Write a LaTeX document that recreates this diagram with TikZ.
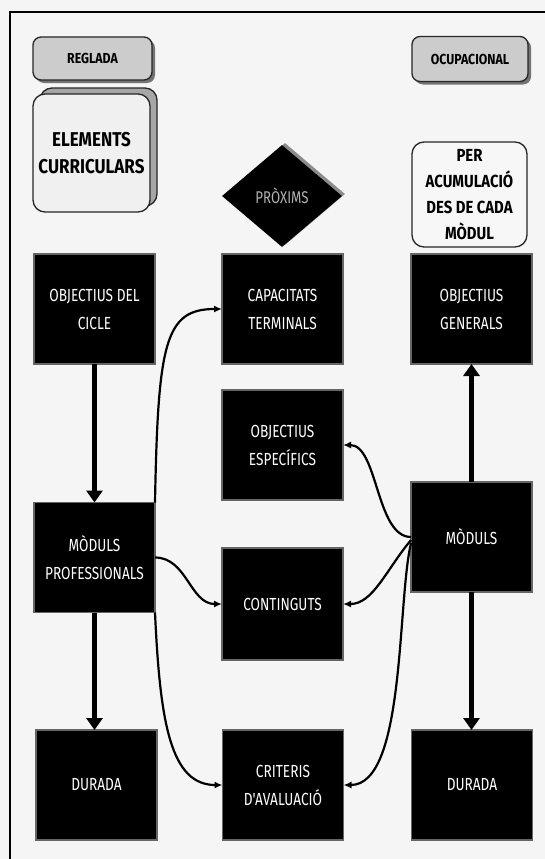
\documentclass[tikz,border=0pt]{standalone}
\usepackage{fontspec}
\setmainfont{Fira Sans}
\newfontfamily\wf{Fira Sans}[FakeStretch=0.78]
\newfontfamily\lf{Fira Sans}[FakeStretch=0.85]
\usetikzlibrary{shapes.geometric,arrows.meta}
\begin{document}
\begin{tikzpicture}[x=1pt,y=-1pt,
  blk/.style={fill=black, draw=black!60, line width=1.2pt, text=white,
    minimum width=121pt, minimum height=110pt, inner sep=2pt, outer sep=0pt,
    align=center, font=\wf\fontsize{17.5}{28}\selectfont},
  lab/.style={rounded corners=8pt, draw=black!85, line width=1.3pt,
    align=center, outer sep=0pt, inner sep=2pt},
  shad/.style={rounded corners=8pt, fill=black!55, draw=none, outer sep=0pt},
  big/.style={line width=5pt, -{Triangle[length=12pt,width=16pt]}},
  con/.style={line width=2.2pt, -{Latex[length=8pt,width=7pt]}}]
\useasboundingbox (0,0) rectangle (545,859);
\fill[black!4] (0,0) rectangle (545,859);
\draw[line width=2pt] (545,12) -- (10,12) -- (10,859);

% top label boxes
\node[shad, minimum width=119pt, minimum height=43pt] (regladash) at (95.5,61.5) {};
\node[lab, fill=black!20, minimum width=119pt, minimum height=43pt,
  font=\lf\bfseries\fontsize{14.5}{16}\selectfont] (reglada) at (92.5,58.5) {REGLADA};
\node[shad, minimum width=116pt, minimum height=45pt] (ocupsh) at (473,62) {};
\node[lab, fill=black!20, minimum width=116pt, minimum height=45pt,
  font=\lf\bfseries\fontsize{14.5}{16}\selectfont] (ocup) at (470,59) {OCUPACIONAL};
\node[lab, rounded corners=12pt, fill=black!35, minimum width=117pt, minimum height=118pt] (elemback) at (98.5,147) {};
\node[lab, rounded corners=12pt, fill=black!6, minimum width=117pt, minimum height=118pt,
  font=\lf\bfseries\fontsize{20}{27}\selectfont] (elements) at (91.5,153) {ELEMENTS\\CURRICULARS};
\node[lab, rounded corners=12pt, fill=black!3, minimum width=115pt, minimum height=105pt,
  font=\lf\bfseries\fontsize{17.5}{26}\selectfont] (per) at (469.5,194.5) {PER\\ACUMULACIÓ\\DES DE CADA\\MÒDUL};

% diamond
\node[diamond, fill=black!45, minimum width=120pt, minimum height=102pt, inner sep=0pt] (proxsh) at (285,194) {};
\node[diamond, fill=black, minimum width=120pt, minimum height=102pt, inner sep=0pt,
  text=black!30, font=\wf\fontsize{17}{18}\selectfont] (prox) at (282,196) {PRÒXIMS};

% black boxes
\node[blk] (cicle) at (94.5,309) {OBJECTIUS DEL\\CICLE};
\node[blk] (capac) at (282.5,309) {CAPACITATS\\TERMINALS};
\node[blk] (generals) at (471.5,309) {OBJECTIUS\\GENERALS};
\node[blk] (especif) at (282.5,445) {OBJECTIUS\\ESPECÍFICS};
\node[blk] (modprof) at (94.5,557.5) {MÒDULS\\PROFESSIONALS};
\node[blk] (moduls) at (471.5,537) {MÒDULS};
\node[blk, minimum height=112pt] (contin) at (282.5,604) {CONTINGUTS};
\node[blk] (durL) at (96.5,785) {DURADA};
\node[blk] (criteris) at (283,785) {CRITERIS\\D'AVALUACIÓ};
\node[blk] (durR) at (472,785) {DURADA};

% thick arrows
\draw[big] (cicle.south) -- (modprof.north);
\draw[big] (modprof.south) -- (modprof.south |- durL.north);
\draw[big] (moduls.north) -- (generals.south);
\draw[big] (moduls.south) -- (moduls.south |- durR.north);

% curved connectors
\draw[con] (modprof.north east) .. controls +(3,-160) and +(-57,0) .. (capac.west);
\draw[con] (modprof.east) .. controls +(32,0) and +(-32,0) .. (contin.west);
\draw[con] (modprof.south east) .. controls +(5,110) and +(-52,0) .. (criteris.west);
\draw[con] (moduls.west) .. controls +(-35,0) and +(35,0) .. (especif.east);
\draw[con] ([yshift=-3pt]moduls.west) .. controls +(-25,30) and +(30,0) .. (contin.east);
\draw[con] ([yshift=-6pt]moduls.west) .. controls +(-14,60) and +(62,0) .. (criteris.east);
\end{tikzpicture}
\end{document}
